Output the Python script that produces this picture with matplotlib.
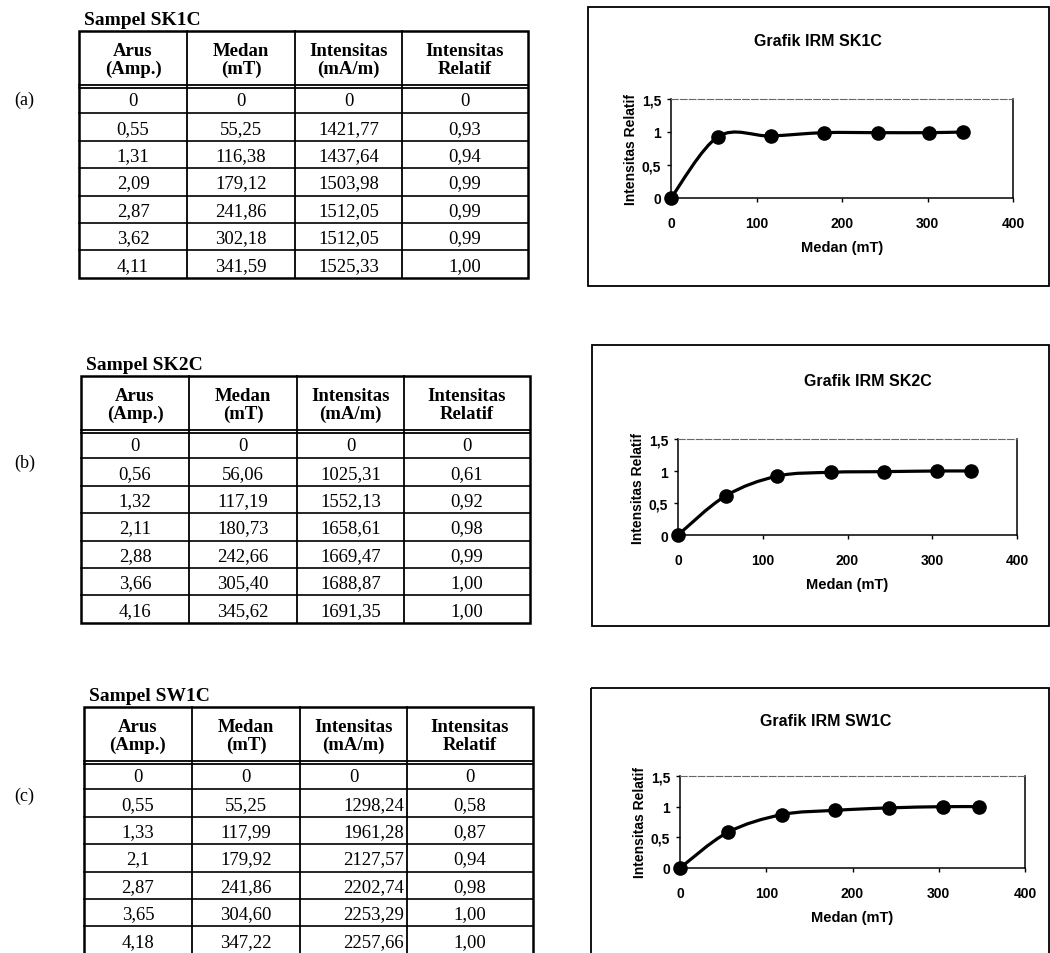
"""IRM tables and curves for samples SK1C, SK2C and SW1C -> out.png."""
import matplotlib
matplotlib.use("Agg")
import matplotlib.pyplot as plt
from matplotlib.patches import Rectangle, PathPatch
from matplotlib.path import Path

W, H = 1050, 954

samples = ["SK1C", "SK2C", "SW1C"]
tags = ["(a)", "(b)", "(c)"]
headers = ["Arus\n(Amp.)", "Medan\n(mT)", "Intensitas\n(mA/m)", "Intensitas\nRelatif"]

arus_sk1c = [0, 0.55, 1.31, 2.09, 2.87, 3.62, 4.11]
medan_sk1c = [0, 55.25, 116.38, 179.12, 241.86, 302.18, 341.59]
intens_sk1c = [0, 1421.77, 1437.64, 1503.98, 1512.05, 1512.05, 1525.33]
rel_sk1c = [0, 0.93, 0.94, 0.99, 0.99, 0.99, 1.00]

arus_sk2c = [0, 0.56, 1.32, 2.11, 2.88, 3.66, 4.16]
medan_sk2c = [0, 56.06, 117.19, 180.73, 242.66, 305.40, 345.62]
intens_sk2c = [0, 1025.31, 1552.13, 1658.61, 1669.47, 1688.87, 1691.35]
rel_sk2c = [0, 0.61, 0.92, 0.98, 0.99, 1.00, 1.00]

arus_sw1c = [0, 0.55, 1.33, 2.1, 2.87, 3.65, 4.18]
medan_sw1c = [0, 55.25, 117.99, 179.92, 241.86, 304.60, 347.22]
intens_sw1c = [0, 1298.24, 1961.28, 2127.57, 2202.74, 2253.29, 2257.66]
rel_sw1c = [0, 0.58, 0.87, 0.94, 0.98, 1.00, 1.00]

xticks = [0, 100, 200, 300, 400]
yticks = [0, 0.5, 1, 1.5]
ytick_labels = ["0", "0,5", "1", "1,5"]

SERIF = "Liberation Serif"
SANS = "Liberation Sans"


def fmt_g(v):
    return "0" if v == 0 else f"{v:g}".replace(".", ",")


def fmt_2(v):
    return "0" if v == 0 else f"{v:.2f}".replace(".", ",")


def draw_table(ax, x0, top, tag_y, name, tag, cols, right_align_int=False):
    widths = [108, 108, 107, 126]
    head_h, row_h = 55, 27.4
    edges = [x0]
    for w in widths:
        edges.append(edges[-1] + w)
    n = len(cols[0])
    bottom = top + head_h + n * row_h
    ax.text(x0 + 5, top - 3, f"Sampel {name}", family=SERIF, fontweight="bold",
            fontsize=14, ha="left", va="bottom")
    ax.text(14, tag_y, tag, family=SERIF, fontsize=13, ha="left", va="center")
    # header
    for j, h in enumerate(headers):
        ax.text((edges[j] + edges[j + 1]) / 2, top + head_h / 2 + 1, h,
                family=SERIF, fontweight="bold", fontsize=13.5, ha="center",
                va="center", linespacing=1.05)
    # data rows
    texts = [[fmt_g(v) for v in cols[0]], [fmt_2(v) for v in cols[1]],
             [fmt_2(v) for v in cols[2]], [fmt_2(v) for v in cols[3]]]
    for i in range(n):
        yc = top + head_h + (i + 0.5) * row_h + 1
        for j in range(4):
            if j == 2 and right_align_int and i > 0:
                ax.text(edges[j + 1] - 3, yc, texts[j][i], family=SERIF,
                        fontsize=13.5, ha="right", va="center")
            else:
                ax.text((edges[j] + edges[j + 1]) / 2, yc, texts[j][i],
                        family=SERIF, fontsize=13.5, ha="center", va="center")
    # grid lines
    ax.add_patch(Rectangle((edges[0], top), edges[-1] - edges[0], bottom - top,
                           fill=False, lw=1.8, ec="black"))
    for e in edges[1:-1]:
        ax.plot([e, e], [top, bottom], color="black", lw=1.3)
    hb = top + head_h
    ax.plot([edges[0], edges[-1]], [hb - 1.5, hb - 1.5], color="black", lw=1.3)
    ax.plot([edges[0], edges[-1]], [hb + 1.8, hb + 1.8], color="black", lw=1.3)
    for i in range(1, n):
        y = hb + i * row_h
        ax.plot([edges[0], edges[-1]], [y, y], color="black", lw=1.2)


def smooth_path(xs, ys):
    pts = list(zip(xs, ys))
    n = len(pts)
    verts, codes = [pts[0]], [Path.MOVETO]
    for i in range(n - 1):
        p0, p1 = pts[max(i - 1, 0)], pts[i]
        p2, p3 = pts[i + 1], pts[min(i + 2, n - 1)]
        c1 = (p1[0] + (p2[0] - p0[0]) / 6, p1[1] + (p2[1] - p0[1]) / 6)
        c2 = (p2[0] - (p3[0] - p1[0]) / 6, p2[1] - (p3[1] - p1[1]) / 6)
        verts += [c1, c2, p2]
        codes += [Path.CURVE4] * 3
    return Path(verts, codes)


def draw_chart(fig, base, box, axpx, title_xy, name, xs, ys):
    bx0, by0, by1 = box
    base.add_patch(Rectangle((bx0, by0), 1049 - bx0, by1 - by0, fill=False,
                             lw=1.3, ec="black"))
    base.text(title_xy[0], title_xy[1], f"Grafik IRM {name}", family=SANS,
              fontweight="bold", fontsize=11.5, ha="center", va="center")
    l, r, t, b = axpx
    ax = fig.add_axes([l / W, 1 - b / H, (r - l) / W, (b - t) / H])
    ax.set_facecolor("none")
    path = smooth_path(xs, ys)
    ax.add_patch(PathPatch(path, fc="none", ec="black", lw=2.3, clip_on=False))
    ax.plot(xs, ys, "o", color="black", ms=9.5, clip_on=False, zorder=3)
    ax.set_xlim(0, 400)
    ax.set_ylim(0, 1.5)
    ax.set_xticks(xticks)
    ax.set_xticklabels([str(v) for v in xticks])
    ax.set_yticks(yticks)
    ax.set_yticklabels(ytick_labels)
    for lab in ax.get_xticklabels() + ax.get_yticklabels():
        lab.set_family(SANS)
        lab.set_fontweight("bold")
        lab.set_fontsize(10)
    ax.tick_params(axis="x", direction="out", length=3, width=1, pad=10)
    ax.tick_params(axis="y", direction="out", length=3, width=1, pad=4)
    for s in ("left", "bottom", "right"):
        ax.spines[s].set_linewidth(1.1)
    ax.spines["top"].set_linewidth(0.8)
    ax.spines["top"].set_color("#666666")
    ax.spines["top"].set_linestyle((0, (6, 2)))
    ax.set_xlabel("Medan (mT)", family=SANS, fontweight="bold", fontsize=10.5,
                  labelpad=7)
    ax.set_ylabel("Intensitas Relatif", family=SANS, fontweight="bold",
                  fontsize=10, labelpad=3)
    return ax


fig = plt.figure(figsize=(W / 100, H / 100), dpi=100)
fig.patch.set_facecolor("white")
base = fig.add_axes([0, 0, 1, 1])
base.set_xlim(0, W)
base.set_ylim(H, 0)
base.axis("off")

tables = [
    (79, 32, 100, [arus_sk1c, medan_sk1c, intens_sk1c, rel_sk1c], False),
    (81, 377, 463, [arus_sk2c, medan_sk2c, intens_sk2c, rel_sk2c], False),
    (84, 708, 796, [arus_sw1c, medan_sw1c, intens_sw1c, rel_sw1c], True),
]
for (x0, top, ty, cols, ra), name, tag in zip(tables, samples, tags):
    draw_table(base, x0, top, ty, name, tag, cols, ra)

charts = [
    ((588, 8, 287), (671, 1013, 100, 199), (818, 42), medan_sk1c, rel_sk1c),
    ((592, 346, 627), (678, 1017, 440, 536), (868, 382), medan_sk2c, rel_sk2c),
    ((591, 689, 960), (680, 1025, 777, 869), (826, 722), medan_sw1c, rel_sw1c),
]
for (box, axpx, txy, xs, ys), name in zip(charts, samples):
    draw_chart(fig, base, box, axpx, txy, name, xs, ys)

fig.savefig("out.png", dpi=100, facecolor="white")
